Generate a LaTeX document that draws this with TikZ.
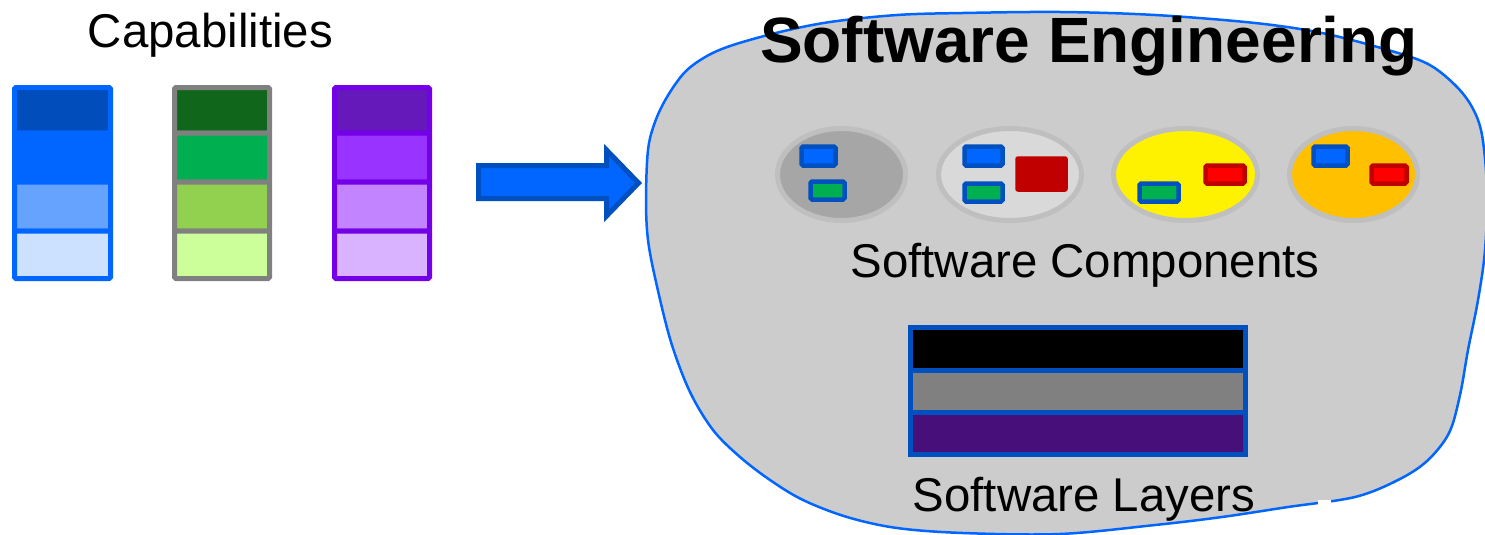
\documentclass[tikz,border=0pt]{standalone}
\usepackage{fontspec}
\setmainfont{Liberation Sans}
\definecolor{cblue}{HTML}{0066FF}
\definecolor{cdblue}{HTML}{004DBB}
\definecolor{cmblue}{HTML}{66A3FF}
\definecolor{clblue}{HTML}{CCE0FF}
\definecolor{cgray}{HTML}{808080}
\definecolor{cdgreen}{HTML}{10661A}
\definecolor{cgreen}{HTML}{00B050}
\definecolor{cmgreen}{HTML}{92D050}
\definecolor{clgreen}{HTML}{CCFF99}
\definecolor{cpurp}{HTML}{7300E6}
\definecolor{cdpurp}{HTML}{6619BB}
\definecolor{cmpurp}{HTML}{9933FF}
\definecolor{clpurp}{HTML}{C285FF}
\definecolor{cvlpurp}{HTML}{D9B3FF}
\definecolor{bordblue}{HTML}{0050C0}
\definecolor{blobgray}{HTML}{CCCCCC}
\definecolor{ringgray}{HTML}{BFBFBF}
\definecolor{darkred}{HTML}{C00000}
\definecolor{layerpurp}{HTML}{470F79}
\definecolor{corange}{HTML}{FFC000}
\tikzset{
  cell/.style={line width=5pt, rounded corners=1.5pt},
  ring/.style={draw=ringgray, line width=5pt},
  bluebox/.style={draw=bordblue, fill=cblue, line width=4.5pt, rounded corners=1.5pt},
  greenbox/.style={draw=bordblue, fill=cgreen, line width=4.5pt, rounded corners=1.5pt},
  redbox/.style={draw=darkred, fill=red, line width=4.5pt, rounded corners=1.5pt},
  layer/.style={draw=bordblue, line width=5pt},
  label/.style={anchor=base, inner sep=0pt, font=\fontsize{47.4}{50}\selectfont},
}
\begin{document}
\begin{tikzpicture}[x=1pt, y=-1pt]
\useasboundingbox (0,0) rectangle (1485,535);
% capabilities
\node[label] (cap) at (210.5,48) {Capabilities};
% blue column
\foreach \ya/\yb/\c in {87.5/133/cdblue, 133/182/cblue, 182/231/cmblue, 231/278.5/clblue}
  \draw[cell, draw=cblue, fill=\c] (14.5,\ya) rectangle (110.5,\yb);
% green column
\foreach \ya/\yb/\c in {87.5/133/cdgreen, 133/182/cgreen, 182/231/cmgreen, 231/278.5/clgreen}
  \draw[cell, draw=cgray, fill=\c] (174.5,\ya) rectangle (269.5,\yb);
% purple column
\foreach \ya/\yb/\c in {87.5/133/cdpurp, 133/182/cmpurp, 182/231/clpurp, 231/278.5/cvlpurp}
  \draw[cell, draw=cpurp, fill=\c] (334.5,\ya) rectangle (429.5,\yb);
% block arrow
\draw[draw=bordblue, fill=cblue, line width=5pt, line join=miter]
  (478.5,165.5) -- (606.5,165.5) -- (606.5,150) -- (638.5,183) -- (606.5,216) -- (606.5,198.5) -- (478.5,198.5) -- cycle;
% blob
\draw[fill=blobgray, draw=cblue, line width=2.5pt]
  plot[smooth cycle, tension=0.55] coordinates {
  (646,200) (648,150) (655,122) (667,97) (685,72) (707,56) (733,45) (780,32) (830,22)
  (897,15) (963,13) (1060,12) (1155,15) (1255,23) (1322,33) (1388,50) (1428,64)
  (1455,85) (1472,107) (1482,135) (1487,190) (1485,250) (1478,300) (1468,350)
  (1460,395) (1449,433) (1427,461) (1398,480) (1355,497) (1288,507) (1222,517)
  (1155,525) (1060,534) (963,533) (897,528) (847,517) (803,500) (770,480)
  (740,457) (713,430) (690,392) (671,342) (656,282) (648,240)};
\fill[white] (1318,499.5) rectangle (1331,505.5);
% title
\node[anchor=base, inner sep=0pt, font=\fontsize{64}{66}\selectfont\bfseries] (title) at (1089,63) {Software Engineering};
% component ellipses
\draw[ring, fill=gray!70] (841.5,174.5) ellipse [x radius=64, y radius=46];
\draw[ring, fill=black!15] (1010,174.5) ellipse [x radius=71.5, y radius=46];
\draw[ring, fill=yellow] (1185.5,174.5) ellipse [x radius=72, y radius=46];
\draw[ring, fill=corange] (1353.5,174.5) ellipse [x radius=64, y radius=46];
% boxes
\draw[bluebox] (801.5,146.5) rectangle (835.5,165.5);
\draw[greenbox] (810.5,181.5) rectangle (844.5,199.5);
\draw[bluebox] (964.5,146.5) rectangle (1002.5,165.5);
\draw[greenbox] (964.5,183.5) rectangle (1002.5,201.5);
\draw[draw=darkred, fill=darkred, line width=1.5pt, rounded corners=2pt] (1016,157) rectangle (1067,191);
\draw[greenbox] (1139.5,183.5) rectangle (1178.5,201.5);
\draw[redbox] (1205.5,165.5) rectangle (1244.5,183.5);
\draw[bluebox] (1313.5,146.5) rectangle (1347.5,165.5);
\draw[redbox] (1371.5,165.5) rectangle (1406.5,183.5);
\node[label] (comp) at (1085,277) {Software Components};
% layers
\draw[layer, fill=black] (910.5,327.5) rectangle (1245.5,370);
\draw[layer, fill=cgray] (910.5,370) rectangle (1245.5,412);
\draw[layer, fill=layerpurp] (910.5,412) rectangle (1245.5,454.5);
\node[label] (layers) at (1084,511) {Software Layers};
\end{tikzpicture}
\end{document}
